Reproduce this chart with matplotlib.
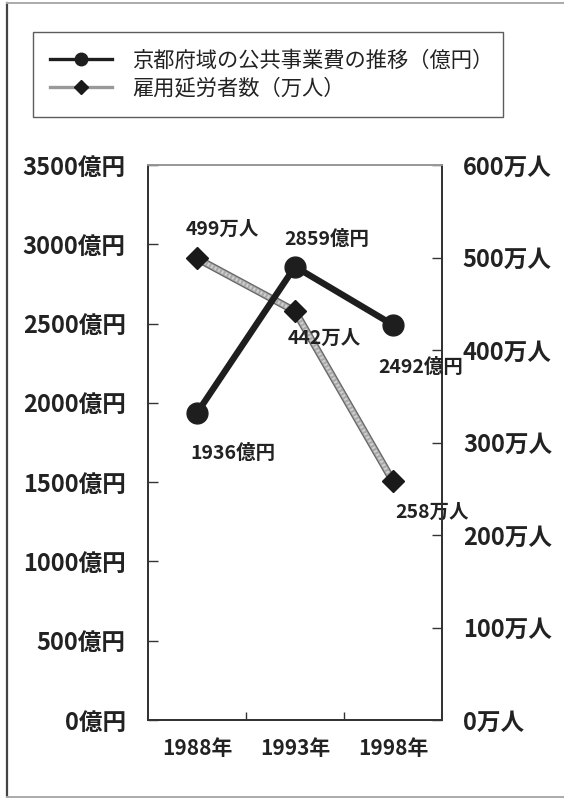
import matplotlib
matplotlib.use("Agg")
import matplotlib.pyplot as plt
from matplotlib.lines import Line2D
import matplotlib.patheffects as pe

plt.rcParams['font.family'] = ['Noto Sans CJK JP', 'DejaVu Sans']

# Data
years = ["1988年", "1993年", "1998年"]
spending = [1936, 2859, 2492]          # 億円
workers = [499, 442, 258]              # 万人
spending_ticks = [0, 500, 1000, 1500, 2000, 2500, 3000, 3500]
worker_ticks = [0, 100, 200, 300, 400, 500, 600]
legend_labels = ["京都府域の公共事業費の推移（億円）", "雇用延労者数（万人）"]

W, H = 564, 798
fig = plt.figure(figsize=(W / 100, H / 100), dpi=100)

# Outer frame
fig.add_artist(Line2D([7 / W, 7 / W], [1 / H, 795 / H], transform=fig.transFigure,
                      color="#444444", lw=1.6))
fig.add_artist(Line2D([7 / W, 1.0], [795 / H, 795 / H], transform=fig.transFigure,
                      color="#aaaaaa", lw=1.4))
fig.add_artist(Line2D([7 / W, 1.0], [1.5 / H, 1.5 / H], transform=fig.transFigure,
                      color="#aaaaaa", lw=1.4))

ax = fig.add_axes([148 / W, (H - 720) / H, (442 - 148) / W, (720 - 165) / H])
ax2 = ax.twinx()
ax.set_zorder(ax2.get_zorder() + 1)
ax.patch.set_visible(False)

x = list(range(len(years)))

# Workers series (gray textured line, black diamonds)
ax2.plot(x, workers, color="#a8a8a8", lw=3.6, solid_capstyle="butt",
         path_effects=[pe.Stroke(linewidth=5.4, foreground="#666666"), pe.Normal()],
         zorder=2)
ax2.plot(x, workers, color="#d0d0d0", lw=2.4, linestyle=(0, (0.6, 0.6)), zorder=3)
ax2.plot(x, workers, linestyle="none", marker="D", markersize=11,
         color="#1a1a1a", zorder=4)

# Spending series (black line, black circles)
ax.plot(x, spending, color="#1e1e1e", lw=4.6, marker="o", markersize=15,
        markerfacecolor="#1e1e1e", markeredgecolor="#1e1e1e", zorder=5)

ax.set_xlim(-0.5, len(years) - 0.5)
ax.set_ylim(0, 3500)
ax2.set_ylim(0, 600)

bold = dict(fontweight="bold", color="#222222")

ax.set_yticks(spending_ticks)
ax.set_yticklabels([f"{v}億円" for v in spending_ticks], fontsize=17, **bold)
ax2.set_yticks(worker_ticks)
ax2.set_yticklabels([f"{v}万人" for v in worker_ticks], fontsize=17, **bold)

ax.set_xticks(x)
ax.set_xticklabels(years, fontsize=15, **bold)
ax.set_xticks([0.5, 1.5], minor=True)
ax.tick_params(axis="x", which="major", length=0, pad=13)
ax.tick_params(axis="x", which="minor", direction="in", length=6, width=1, color="#333333")
ax.tick_params(axis="y", direction="in", length=7, width=1, color="#333333", pad=16)
ax2.tick_params(axis="y", direction="in", length=7, width=1, color="#333333", pad=15)

for a in (ax, ax2):
    for side in ("left", "right", "bottom"):
        a.spines[side].set_color("#333333")
        a.spines[side].set_linewidth(1.3)
    a.spines["top"].set_color("#999999")
    a.spines["top"].set_linewidth(1.3)

# Value labels
sp_offsets = [(36, -40), (32, 27), (28, -43)]
for xi, v, off in zip(x, spending, sp_offsets):
    ax.annotate(f"{v}億円", (xi, v), xytext=off, textcoords="offset pixels",
                ha="center", va="center", fontsize=14, zorder=6, **bold)
wk_offsets = [(25, 29), (29, -27), (39, -31)]
for xi, v, off in zip(x, workers, wk_offsets):
    ax2.annotate(f"{v}万人", (xi, v), xytext=off, textcoords="offset pixels",
                 ha="center", va="center", fontsize=14, zorder=6, **bold)

# Legend
handles = [
    Line2D([], [], color="#1e1e1e", lw=2.4, marker="o", markersize=9),
    Line2D([], [], color="#999999", lw=2.4, marker="D", markersize=7,
           markerfacecolor="#1a1a1a", markeredgecolor="#1a1a1a"),
]
leg = fig.legend(handles, legend_labels, loc="upper left",
                 bbox_to_anchor=(33 / W, (H - 117) / H, 470 / W, 85 / H),
                 bbox_transform=fig.transFigure, mode="expand",
                 prop=dict(family=["Noto Sans CJK JP", "DejaVu Sans"], size=15.3),
                 handlelength=2.9, handletextpad=0.95, borderpad=0.82,
                 labelspacing=0.3, borderaxespad=0, fancybox=False,
                 frameon=True, edgecolor="#333333")
leg.get_frame().set_linewidth(1.0)
for t in leg.get_texts():
    t.set_color("#222222")

fig.savefig("out.png", dpi=100)
